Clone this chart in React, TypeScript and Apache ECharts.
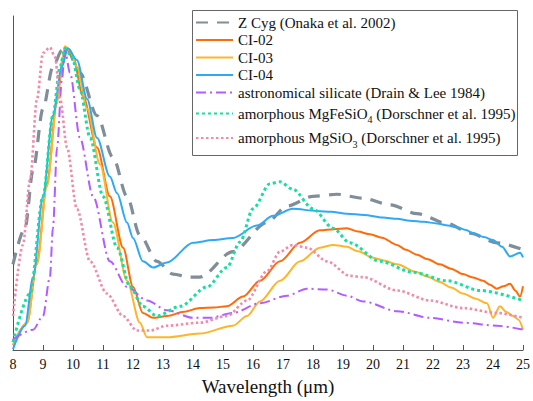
import React, { useEffect, useRef } from 'react';
import * as echarts from 'echarts';

const xTicks = [8, 9, 10, 11, 12, 13, 14, 15, 16, 17, 18, 19, 20, 21, 22, 23, 24, 25];

const zCyg = [
  [8.0, 0.282], [8.4, 0.401], [8.67, 0.593], [9.0, 0.795], [9.33, 0.933], [9.63, 0.987], [9.77, 0.997],
  [10.23, 0.913], [10.8, 0.772], [11.33, 0.635], [11.8, 0.506], [12.23, 0.378], [12.8, 0.292], [13.33, 0.25],
  [13.9, 0.24], [14.23, 0.24], [15.33, 0.324], [16.47, 0.42], [17.13, 0.474], [18.0, 0.506], [18.8, 0.513],
  [19.67, 0.5], [20.57, 0.478], [21.47, 0.449], [22.47, 0.417], [23.23, 0.385], [24.13, 0.353], [25.0, 0.33],
];

const ci02 = [
  [8.0, 0.016], [8.47, 0.09], [8.8, 0.292], [9.13, 0.548], [9.47, 0.827], [9.67, 0.955], [9.8, 0.994],
  [10.0, 0.965], [10.33, 0.837], [10.8, 0.667], [11.23, 0.506], [11.67, 0.337], [12.0, 0.208], [12.33, 0.122],
  [12.67, 0.106], [13.13, 0.112], [13.7, 0.126], [14.23, 0.138], [14.7, 0.14], [15.13, 0.144], [15.67, 0.176],
  [16.23, 0.228], [16.9, 0.292], [17.57, 0.353], [18.23, 0.394], [18.7, 0.398], [19.13, 0.401], [19.5, 0.39],
  [19.9, 0.381], [20.3, 0.37], [20.8, 0.346], [21.1, 0.33], [21.47, 0.314], [21.8, 0.3], [22.23, 0.282],
  [22.6, 0.268], [23.0, 0.25], [23.3, 0.24], [23.67, 0.228], [23.9, 0.215], [24.13, 0.202], [24.35, 0.21],
  [24.57, 0.218], [24.75, 0.195], [24.9, 0.176], [25.0, 0.21],
];

const ci03 = [
  [8.0, 0.016], [8.47, 0.09], [8.8, 0.282], [9.13, 0.538], [9.47, 0.811], [9.63, 0.955], [9.73, 1.0],
  [9.9, 0.987], [10.13, 0.933], [10.47, 0.795], [10.9, 0.612], [11.33, 0.42], [11.8, 0.228], [12.23, 0.09],
  [12.47, 0.042], [13.13, 0.042], [14.23, 0.054], [15.33, 0.08], [15.8, 0.112], [16.23, 0.16], [16.9, 0.228],
  [17.57, 0.292], [18.23, 0.337], [18.67, 0.346], [19.13, 0.34], [19.5, 0.325], [20.0, 0.304], [20.4, 0.294],
  [20.8, 0.282], [21.47, 0.256], [21.8, 0.242], [22.23, 0.224], [22.6, 0.206], [23.0, 0.186], [23.4, 0.17],
  [23.8, 0.154], [24.0, 0.106], [24.23, 0.144], [24.45, 0.125], [24.67, 0.112], [24.85, 0.1], [25.0, 0.067],
];

const ci04 = [
  [8.0, 0.003], [8.4, 0.08], [8.67, 0.24], [9.0, 0.506], [9.33, 0.772], [9.63, 0.933], [9.83, 0.994],
  [10.13, 0.955], [10.47, 0.827], [10.8, 0.699], [11.23, 0.571], [11.47, 0.516], [11.8, 0.42], [12.0, 0.369],
  [12.33, 0.292], [12.67, 0.272], [13.13, 0.288], [14.0, 0.353], [14.67, 0.362], [15.33, 0.369], [16.13, 0.41],
  [16.67, 0.442], [17.33, 0.465], [18.13, 0.458], [18.6, 0.455], [19.13, 0.449], [19.7, 0.445], [20.33, 0.436],
  [20.8, 0.432], [21.23, 0.426], [21.7, 0.422], [22.13, 0.417], [22.5, 0.41], [22.8, 0.404], [23.1, 0.395],
  [23.33, 0.385], [23.7, 0.372], [24.0, 0.362], [24.3, 0.34], [24.57, 0.308], [24.9, 0.32], [25.0, 0.305],
];

const astroSil = [
  [8.0, 0.035], [8.67, 0.067], [9.0, 0.112], [9.23, 0.24], [9.33, 0.401], [9.47, 0.667], [9.63, 0.891],
  [9.73, 0.987], [9.9, 0.913], [10.23, 0.699], [10.67, 0.506], [11.23, 0.292], [11.8, 0.208], [12.47, 0.163],
  [13.13, 0.131], [14.0, 0.106], [14.57, 0.106], [15.33, 0.122], [16.23, 0.154], [17.13, 0.179], [17.8, 0.202],
  [18.47, 0.199], [19.13, 0.179], [19.67, 0.16], [20.8, 0.128], [21.9, 0.106], [23.0, 0.09], [24.13, 0.08],
  [25.0, 0.067],
];

const mgFeSiO4 = [
  [8.0, 0.026], [8.57, 0.186], [9.0, 0.506], [9.33, 0.772], [9.57, 0.933], [9.73, 0.994], [9.97, 0.965],
  [10.23, 0.859], [10.57, 0.699], [11.0, 0.506], [11.47, 0.337], [11.9, 0.208], [12.33, 0.144], [12.8, 0.112],
  [13.57, 0.144], [14.47, 0.208], [15.13, 0.272], [15.57, 0.356], [16.0, 0.465], [16.57, 0.548], [16.9, 0.554],
  [17.33, 0.529], [18.0, 0.465], [18.67, 0.401], [19.23, 0.353], [20.23, 0.292], [21.33, 0.256], [22.47, 0.228],
  [23.57, 0.196], [25.0, 0.163],
];

const mgSiO3 = [
  [8.0, 0.112], [8.33, 0.346], [8.57, 0.561], [8.8, 0.827], [9.0, 0.978], [9.23, 0.997], [9.4, 0.965],
  [9.57, 0.827], [9.8, 0.667], [10.13, 0.465], [10.57, 0.292], [11.13, 0.186], [11.67, 0.112], [12.13, 0.064],
  [12.57, 0.064], [13.13, 0.08], [14.23, 0.09], [15.13, 0.112], [15.8, 0.163], [16.47, 0.26], [16.9, 0.324],
  [17.33, 0.346], [17.8, 0.337], [18.47, 0.292], [19.23, 0.244], [19.67, 0.24], [20.8, 0.196], [21.9, 0.163],
  [23.0, 0.138], [24.13, 0.122], [25.0, 0.106],
];

const names = [
  'Z Cyg (Onaka et al. 2002)',
  'CI-02',
  'CI-03',
  'CI-04',
  'astronomical silicate (Drain & Lee 1984)',
  'amorphous MgFeSiO4 (Dorschner et al. 1995)',
  'amorphous MgSiO3 (Dorschner et al. 1995)',
];

const SERIF = 'Liberation Serif';

export default function App() {
  const ref = useRef<HTMLDivElement>(null);
  useEffect(() => {
    const chart = echarts.init(ref.current!, null, { renderer: 'svg' });
    const mk = (name: string, data: number[][], color: string, width: number, type: any, z: number) => ({
      name,
      type: 'line',
      data,
      smooth: 0.3,
      smoothMonotone: 'x',
      showSymbol: false,
      symbol: 'none',
      z,
      itemStyle: { color },
      lineStyle: { color, width, type, cap: 'butt' },
    });
    chart.setOption({
      animation: false,
      backgroundColor: '#fff',
      textStyle: { fontFamily: SERIF },
      grid: { left: 13, right: 10, top: 16, bottom: 43 },
      xAxis: {
        type: 'value',
        min: 8,
        max: 25,
        interval: 1,
        name: 'Wavelength (μm)',
        nameLocation: 'middle',
        nameGap: 27,
        nameTextStyle: { fontFamily: SERIF, fontSize: 19, color: '#111' },
        axisLine: { lineStyle: { color: '#555', width: 1 } },
        axisTick: { inside: true, length: 5, lineStyle: { color: '#555' } },
        axisLabel: { fontFamily: SERIF, fontSize: 14, color: '#111', margin: 7, formatter: (v: number) => (xTicks.includes(v) ? String(v) : '') },
        splitLine: { show: false },
      },
      yAxis: {
        type: 'value',
        min: 0,
        max: 1.1,
        axisLine: { show: true, lineStyle: { color: '#555', width: 1 } },
        axisTick: { show: false },
        axisLabel: { show: false },
        splitLine: { show: false },
      },
      legend: {
        orient: 'vertical',
        left: 195,
        top: 15,
        padding: 0,
        itemWidth: 37,
        itemHeight: 12,
        itemGap: 2.5,
        data: names,
        itemStyle: { opacity: 0 },
        textStyle: {
          fontFamily: SERIF,
          fontSize: 15,
          lineHeight: 15,
          color: '#111',
          rich: {
            sub: { fontFamily: SERIF, fontSize: 10, lineHeight: 10, color: '#111', padding: [12, 0, 0, 0] },
          },
        },
        formatter: (n: string) =>
          n.replace('MgFeSiO4', 'MgFeSiO{sub|4}').replace('MgSiO3', 'MgSiO{sub|3}'),
      },
      graphic: [
        {
          type: 'rect',
          shape: { x: 192.5, y: 10.5, width: 325, height: 145 },
          style: { fill: 'none', stroke: '#666', lineWidth: 1 },
          z: 100,
        },
      ],
      series: [
        mk(names[0], zCyg, '#7f8e98', 3.2, [12, 9], 2),
        mk(names[1], ci02, '#ff6a0a', 2, 'solid', 3),
        mk(names[2], ci03, '#ffb52a', 2, 'solid', 3),
        mk(names[3], ci04, '#2eaaf5', 2, 'solid', 3),
        mk(names[4], astroSil, '#b35cff', 2, [10, 4, 2, 4], 3),
        mk(names[5], mgFeSiO4, '#14e0a0', 3, [3, 3], 3),
        mk(names[6], mgSiO3, '#f28aa8', 2.6, [2.5, 2.5], 3),
      ],
    });
    return () => chart.dispose();
  }, []);
  return <div ref={ref} style={{ position: 'fixed', left: 0, top: 0, width: 533, height: 401 }} />;
}
